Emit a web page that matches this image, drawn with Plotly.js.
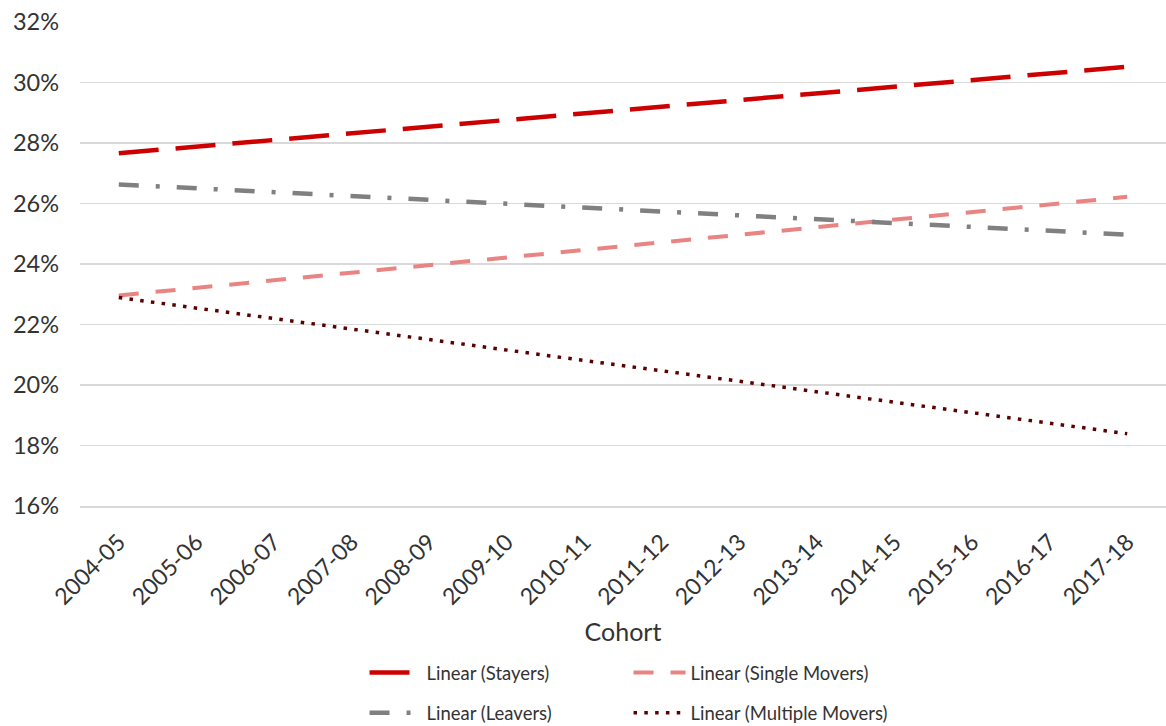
<!DOCTYPE html>
<html>
<head>
<meta charset="utf-8">
<script src="https://cdn.plot.ly/plotly-3.0.1.min.js"></script>
<style>html,body{margin:0;padding:0;background:#fff;}#chart{width:1166px;height:726px;}</style>
</head>
<body>
<div id="chart"></div>
<script>
const cohorts = ["2004-05","2005-06","2006-07","2007-08","2008-09","2009-10","2010-11","2011-12","2012-13","2013-14","2014-15","2015-16","2016-17","2017-18"];
const stayers = [27.66,27.88,28.10,28.32,28.54,28.76,28.98,29.20,29.42,29.64,29.86,30.08,30.30,30.52];
const singleMovers = [22.96,23.21,23.46,23.71,23.96,24.21,24.46,24.72,24.97,25.22,25.47,25.72,25.97,26.22];
const leavers = [26.63,26.50,26.37,26.25,26.12,25.99,25.86,25.74,25.61,25.48,25.35,25.22,25.10,24.97];
const multipleMovers = [22.89,22.54,22.20,21.85,21.51,21.16,20.81,20.47,20.12,19.78,19.43,19.08,18.74,18.39];
const yTicks = [16,18,20,22,24,26,28,30,32];
const yTickText = yTicks.map(v => v + "%");

const FONT = "Lato, 'Open Sans', sans-serif";
const traces = [
  {name:"Linear (Stayers)", x:cohorts, y:stayers, mode:"lines", legend:"legend",
   line:{color:"#cc0000", width:4.5, dash:"40px,17px"}},
  {name:"Linear (Single Movers)", x:cohorts, y:singleMovers, mode:"lines", legend:"legend",
   line:{color:"#e88482", width:4, dash:"20px,17px"}},
  {name:"Linear (Leavers)", x:cohorts, y:leavers, mode:"lines", legend:"legend2",
   line:{color:"#808080", width:4.5, dash:"20px,17px,4px,17px"}},
  {name:"Linear (Multiple Movers)", x:cohorts, y:multipleMovers, mode:"lines", legend:"legend2",
   line:{color:"#5c0000", width:3.5, dash:"3.5px,7.3px"}}
];
traces.forEach(t => t.hoverinfo = "skip");

const legendCommon = {orientation:"h", xanchor:"left", yanchor:"middle", itemwidth:52,
  entrywidth:197, font:{family:FONT, size:18.5, color:"#333"}, bgcolor:"rgba(0,0,0,0)", traceorder:"normal"};

const layout = {
  width:1166, height:726,
  margin:{l:80, r:0, t:22, b:220, autoexpand:false},
  paper_bgcolor:"#fff", plot_bgcolor:"#fff",
  font:{family:FONT, color:"#333"},
  showlegend:true,
  xaxis:{type:"category", range:[-0.5,13.5], tickangle:-45, showgrid:false, zeroline:false,
    showline:true, linecolor:"#d9d9d9", linewidth:1.5, ticks:"", ticklabelstandoff:12,
    tickfont:{family:FONT, size:23, color:"#333"},
    title:{text:"Cohort", font:{family:FONT, size:25, color:"#333"}, standoff:14}},
  yaxis:{range:[16,32], tickvals:yTicks, ticktext:yTickText, showgrid:true, gridcolor:"#d9d9d9", gridwidth:1.5,
    zeroline:false, showline:false, ticks:"", ticklabelstandoff:20,
    tickfont:{family:FONT, size:23.5, color:"#333"}},
  legend:Object.assign({}, legendCommon, {x:0.262, y:-0.345}),
  legend2:Object.assign({}, legendCommon, {x:0.262, y:-0.428})
};

Plotly.newPlot("chart", traces, layout, {staticPlot:true, displayModeBar:false});
</script>
</body>
</html>
